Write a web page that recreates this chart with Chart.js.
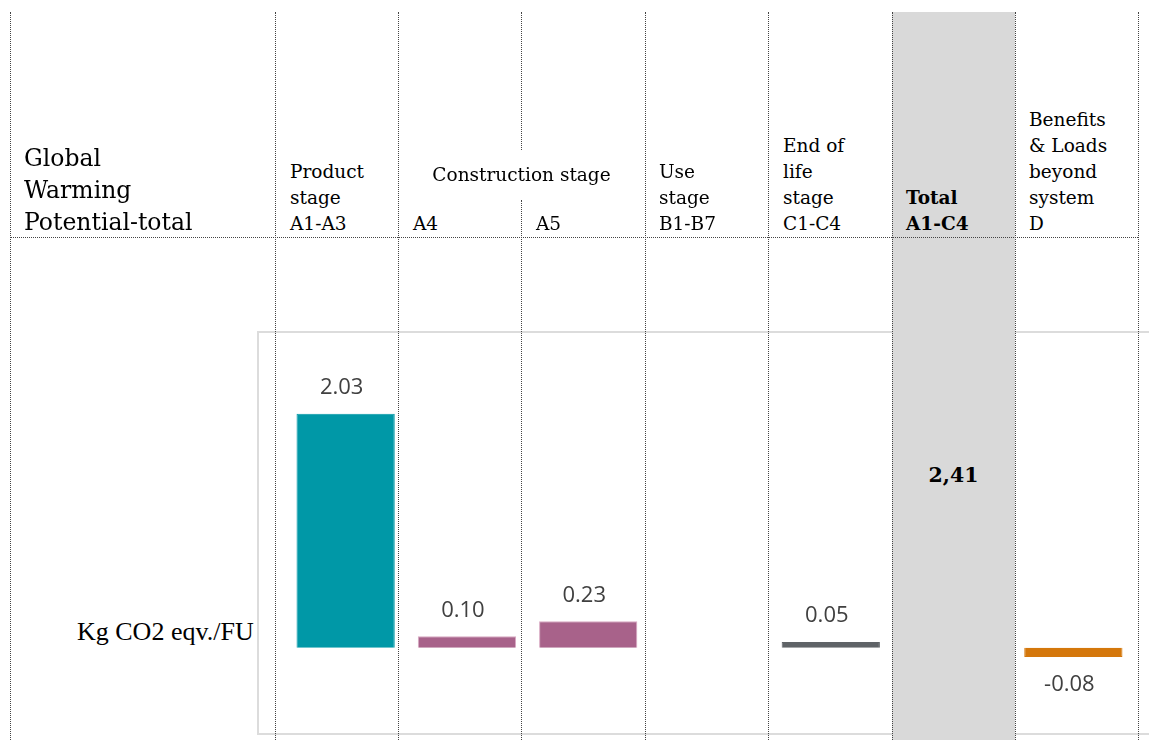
<!DOCTYPE html>
<html>
<head>
<meta charset="utf-8">
<script src="https://cdn.jsdelivr.net/npm/chart.js@4.4.1/dist/chart.umd.min.js"></script>
<style>
  html, body { margin:0; padding:0; background:#fff; }
  body { width:1149px; height:740px; overflow:hidden; position:relative; font-family:'DejaVu Serif', serif; color:#000; }
  .vl { position:absolute; top:12px; bottom:0; width:0; border-left:1px dotted #444; z-index:3; }
  .hl { position:absolute; left:10px; width:1128px; top:237px; height:0; border-top:1px dotted #444; z-index:3; }
  .band { position:absolute; left:892px; width:123px; top:12px; bottom:0; background:#d9d9d9; z-index:2; }
  .hd { position:absolute; bottom:503px; font-size:18.5px; line-height:26px; z-index:4; white-space:nowrap; }
  .title { position:absolute; left:24px; bottom:502px; font-size:23.5px; line-height:32px; z-index:4; }
  #box { position:absolute; left:257px; top:331px; width:900px; height:400px; border:2px solid #dcdcdc; z-index:0; }
  #wrap { position:absolute; left:257px; top:331px; width:902px; height:402px; z-index:1; }
  #unit { position:absolute; left:77px; top:617px; font-family:'Liberation Serif', serif; font-size:26px; z-index:4; white-space:nowrap; }
  #total { position:absolute; left:892px; width:123px; top:463px; text-align:center; font-weight:bold; font-size:20.5px; z-index:4; }
</style>
</head>
<body>
<div class="band"></div>
<div id="box"></div>
<div id="wrap"><canvas id="gwp"></canvas></div>

<div class="vl" style="left:10px"></div>
<div class="vl" style="left:275px"></div>
<div class="vl" style="left:398px"></div>
<div class="vl" style="left:521px; bottom:590px"></div>
<div class="vl" style="left:521px; top:200px"></div>
<div class="vl" style="left:645px"></div>
<div class="vl" style="left:768px"></div>
<div class="vl" style="left:892px"></div>
<div class="vl" style="left:1015px"></div>
<div class="vl" style="left:1138px"></div>
<div class="hl"></div>

<div class="title">Global<br>Warming<br>Potential-total</div>
<div class="hd" style="left:290px">Product<br>stage<br>A1-A3</div>
<div class="hd" style="left:398px; width:247px; text-align:center; bottom:552px">Construction stage</div>
<div class="hd" style="left:413px">A4</div>
<div class="hd" style="left:536px">A5</div>
<div class="hd" style="left:659px">Use<br>stage<br>B1-B7</div>
<div class="hd" style="left:783px">End of<br>life<br>stage<br>C1-C4</div>
<div class="hd" style="left:906px; font-weight:bold">Total<br>A1-C4</div>
<div class="hd" style="left:1029px">Benefits<br>&amp; Loads<br>beyond<br>system<br>D</div>

<div id="unit">Kg CO2 eqv./FU</div>
<div id="total">2,41</div>

<script>
const modules = ['A1-A3', 'A4', 'A5', 'B1-B7', 'C1-C4', 'A1-C4', 'D'];
const gwpValues = [2.03, 0.10, 0.23, null, 0.05, null, -0.08];
const barColors = ['#0098a7', '#a8628a', '#a8628a', '#a8628a', '#5f6367', '#d9d9d9', '#d4770b'];
const barBorders = ['#0098a7', '#d8a8c2', '#d8a8c2', '#d8a8c2', '#5f6367', '#d9d9d9', '#d4770b'];

const valueLabels = {
  id: 'valueLabels',
  afterDatasetsDraw(chart) {
    const ctx = chart.ctx;
    const meta = chart.getDatasetMeta(0);
    ctx.save();
    ctx.font = '22px "Open Sans"';
    ctx.fillStyle = '#404040';
    ctx.textAlign = 'center';
    ctx.textBaseline = 'middle';
    meta.data.forEach((bar, i) => {
      const v = gwpValues[i];
      if (v == null) return;
      const y = v >= 0 ? bar.y - 26 : bar.y + 28;
      ctx.fillText(v.toFixed(2), bar.x - 4, y);
    });
    ctx.restore();
  }
};

new Chart(document.getElementById('gwp'), {
  type: 'bar',
  data: {
    labels: modules,
    datasets: [{
      data: gwpValues,
      backgroundColor: barColors,
      borderColor: barBorders,
      borderWidth: 1,
      barPercentage: 0.9,
      categoryPercentage: 0.9
    }]
  },
  options: {
    responsive: true,
    maintainAspectRatio: false,
    animation: false,
    layout: { padding: { left: 28, right: 25, top: 17, bottom: 16 } },
    plugins: { legend: { display: false }, tooltip: { enabled: false } },
    scales: {
      x: { display: false },
      y: { display: false, min: -0.6, max: 2.6 }
    }
  },
  plugins: [valueLabels]
});
</script>
</body>
</html>
